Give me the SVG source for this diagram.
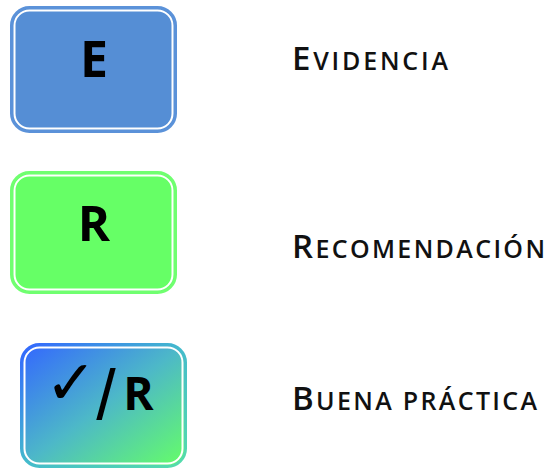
<svg xmlns="http://www.w3.org/2000/svg" width="550" height="470" viewBox="0 0 550 470">
<defs>
<linearGradient id="gFill" x1="0" y1="0" x2="1" y2="1">
<stop offset="0" stop-color="#3366ff"/>
<stop offset="0.5" stop-color="#4db8c8"/>
<stop offset="1" stop-color="#66ff66"/>
</linearGradient>
<linearGradient id="gStroke" x1="0" y1="0" x2="1" y2="1">
<stop offset="0" stop-color="#3366ff"/>
<stop offset="0.5" stop-color="#44bbcc"/>
<stop offset="1" stop-color="#55ddaa"/>
</linearGradient>
<style>
.outer{stroke-width:3}
.inner{fill:none;stroke:#ffffff;stroke-width:2}
.sym{font-family:"Open Sans","Noto Sans",sans-serif;font-weight:bold;fill:#000;text-anchor:middle}
.lbl{font-family:"Open Sans","Noto Sans",sans-serif;fill:#111;font-weight:600}
.big{font-size:33px}
.sm{font-size:25px}
</style>
</defs>
<rect width="550" height="470" fill="#ffffff"/>
<g id="node-evidencia">
<rect class="outer" x="11.5" y="7.5" width="164" height="124" rx="18" fill="#558ed5" stroke="#5b92d9"/>
<rect class="inner" x="14.5" y="10.5" width="158" height="118" rx="15"/>
<text class="sym" x="94" y="77" font-size="50">E</text>
</g>
<g id="node-recomendacion">
<rect class="outer" x="11.5" y="172.5" width="164" height="120" rx="18" fill="#66ff66" stroke="#70ff70"/>
<rect class="inner" x="14.5" y="175.5" width="158" height="114" rx="15"/>
<text class="sym" x="94" y="241" font-size="49">R</text>
</g>
<g id="node-buena-practica">
<rect class="outer" x="21.5" y="344.5" width="164" height="122" rx="18" fill="url(#gFill)" stroke="url(#gStroke)"/>
<rect class="inner" x="24.5" y="347.5" width="158" height="116" rx="15"/>
<text x="71" y="404" font-family="DejaVu Sans,sans-serif" font-size="62" text-anchor="middle" fill="#000">✓</text>
<text x="106" y="419" font-family="Liberation Sans,sans-serif" font-size="70" text-anchor="middle" fill="#000">/</text>
<text class="sym" x="138.5" y="410" font-size="46">R</text>
</g>
<g id="labels">
<text class="lbl" x="292" y="70" textLength="156" lengthAdjust="spacing"><tspan class="big">E</tspan><tspan class="sm">VIDENCIA</tspan></text>
<text class="lbl" x="292" y="258" textLength="253" lengthAdjust="spacing"><tspan class="big">R</tspan><tspan class="sm">ECOMENDACIÓN</tspan></text>
<text class="lbl" x="292" y="410" textLength="245" lengthAdjust="spacing"><tspan class="big">B</tspan><tspan class="sm">UENA PRÁCTICA</tspan></text>
</g>
<g id="connectors"/>
</svg>
